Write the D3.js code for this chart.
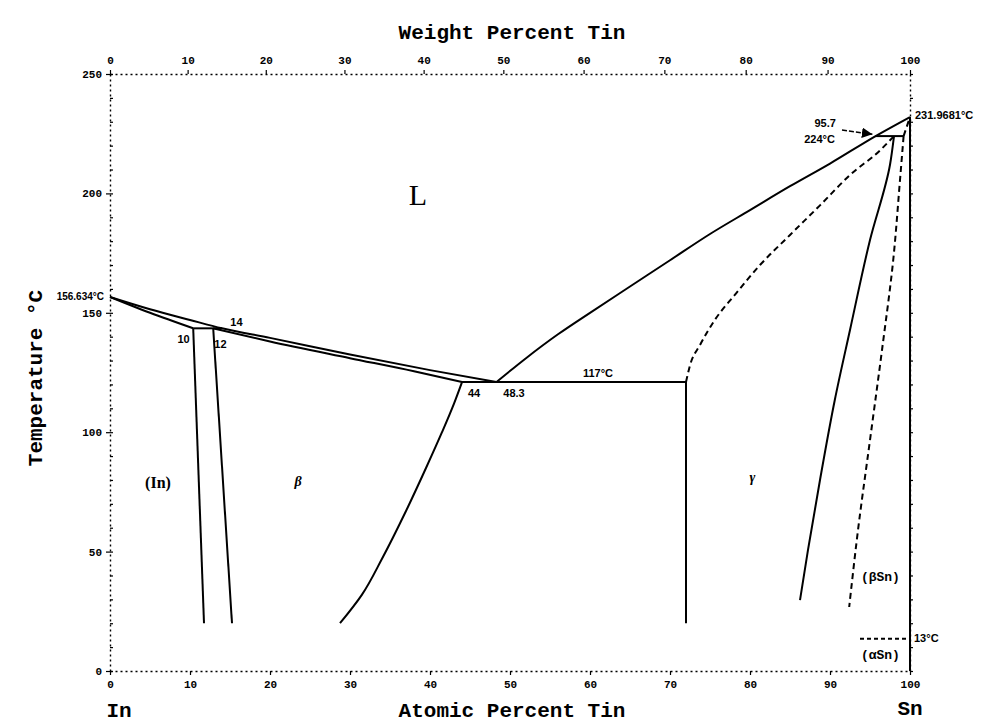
<!DOCTYPE html>
<html>
<head>
<meta charset="utf-8">
<script src="https://cdn.jsdelivr.net/npm/d3@7"></script>
<style>
  body { margin: 0; background: #fff; }
  svg { display: block; }
  .axis text { font-family: "Liberation Mono", monospace; font-weight: bold; font-size: 11px; fill: #000; }
  .axis path { stroke: #000; stroke-width: 1.4; stroke-dasharray: 2,3; }
  .axis line { stroke: #000; stroke-width: 1.2; }
  .title { font-family: "Liberation Mono", monospace; font-weight: bold; font-size: 21px; fill: #000; }
  .phase { fill: none; stroke: #000; stroke-width: 2; }
  .dashed { stroke-dasharray: 6,4; }
  .lbl { font-family: "Liberation Sans", sans-serif; font-weight: bold; font-size: 11px; fill: #000; }
</style>
</head>
<body>
<svg id="chart" width="1006" height="724"></svg>
<script>
  // tick values
  var tempTicks = [0, 50, 100, 150, 200, 250];
  var atomicTicks = [0, 10, 20, 30, 40, 50, 60, 70, 80, 90, 100];
  var weightTicks = [0, 10, 20, 30, 40, 50, 60, 70, 80, 90, 100];

  // phase boundaries, [atomic % Sn, temperature °C]
  var liquidusIn = [[0, 156.634], [5, 151.5], [10, 147], [14, 143.5], [20, 139.5], [30, 132.5], [40, 126], [48.3, 121]];
  var liquidusSn = [[48.3, 121], [52, 131], [56, 141], [60, 150], [65, 161], [70, 172], [75, 183], [80, 193], [85, 203], [90, 212.5], [95.7, 224], [100, 231.9681]];
  var solidusIn = [[0, 156.634], [5, 150], [10.4, 143.5]];
  var solidusBeta = [[12.9, 143.5], [20, 138], [30, 131], [38, 125.5], [44, 121]];
  var solvusIn = [[10.4, 143.5], [11.75, 20]];
  var betaLeft = [[12.9, 143.5], [15.25, 20]];
  var betaRight = [[44, 121], [43, 112], [41.5, 100], [39.5, 85], [37, 67], [34, 47], [31.5, 32], [28.75, 20]];
  var peritecticLow = [[10.4, 143.5], [14, 143.5]];
  var eutectic = [[44, 121], [72, 121]];
  var gammaLeft = [[72, 121], [72, 20]];
  var gammaSolidus = [[72, 121], [72.5, 128], [73.75, 136.5], [75.6, 147], [78.1, 157.5], [81.25, 170], [85, 182.6], [88.75, 195], [92.5, 207.7], [96.25, 218], [98, 224]];
  var gammaRight = [[98, 224], [97.5, 212], [95, 180.5], [92.5, 142.8], [90.6, 113.5], [88.75, 80], [87.25, 50.7], [86.25, 29.7]];
  var peritecticHigh = [[95.7, 224], [99.2, 224]];
  var betaSnSolvus = [[99.2, 224], [98.75, 205.6], [97.9, 172], [96.5, 134.4], [95, 96.7], [93.5, 59], [92.4, 26.8]];
  var betaSnSolidus = [[99.2, 224], [100, 231.9681]];
  var pureSn = [[100, 0], [100, 231.9681]];
  var alphaLine = [[93.75, 13.5], [100, 13.5]];

  var labels = [
    {t: "L", a: 38.5, c: 198, size: 30, font: "Liberation Serif", weight: "normal"},
    {t: "(In)", a: 6, c: 78, size: 16, font: "Liberation Serif"},
    {t: "β", a: 23.5, c: 79, size: 14, font: "Liberation Serif", style: "italic"},
    {t: "γ", a: 80.3, c: 80.5, size: 14, font: "Liberation Serif", style: "italic"},
    {t: "117°C", a: 61, c: 124.5},
    {t: "44", a: 45.5, c: 116},
    {t: "48.3", a: 50.5, c: 116},
    {t: "10", a: 9.2, c: 138.5},
    {t: "12", a: 13.8, c: 136.5},
    {t: "14", a: 15.8, c: 145.5},
    {t: "95.7", a: 89.4, c: 229},
    {t: "224°C", a: 88.7, c: 222.5},
    {t: "(βSn)", a: 96.3, c: 39, size: 13, font: "Liberation Mono"},
    {t: "(αSn)", a: 96.3, c: 6.5, size: 13, font: "Liberation Mono"}
  ];

  var svg = d3.select('#chart');

  var xScale = d3.scaleLinear().domain([0, 100]).range([110, 910]);
  var yScale = d3.scaleLinear().domain([0, 250]).range([671, 74]);

  // weight percent -> atomic percent for the top axis
  function atomicFromWeight(w) {
    var sn = w / 118.71, inn = (100 - w) / 114.82;
    return sn / (sn + inn) * 100;
  }
  var wScale = d3.scaleLinear()
      .domain(weightTicks)
      .range(weightTicks.map(function(w) { return xScale(atomicFromWeight(w)); }));

  var line = d3.line()
      .x(function(d) { return xScale(d[0]); })
      .y(function(d) { return yScale(d[1]); })
      .curve(d3.curveMonotoneX);
  var lineY = d3.line()
      .x(function(d) { return xScale(d[0]); })
      .y(function(d) { return yScale(d[1]); })
      .curve(d3.curveMonotoneY);

  // axes
  svg.append('g')
      .attr('class', 'axis')
      .attr('transform', 'translate(0,' + yScale(0) + ')')
      .call(d3.axisBottom(xScale).tickValues(atomicTicks).tickSize(4).tickSizeOuter(0).tickPadding(5));

  svg.append('g')
      .attr('class', 'axis')
      .attr('transform', 'translate(0,' + yScale(250) + ')')
      .call(d3.axisTop(wScale).tickValues(weightTicks).tickSize(4).tickSizeOuter(0).tickPadding(6));

  svg.append('g')
      .attr('class', 'axis')
      .attr('transform', 'translate(' + xScale(0) + ',0)')
      .call(d3.axisLeft(yScale).tickValues(tempTicks).tickSize(4).tickSizeOuter(0).tickPadding(4));

  svg.append('g')
      .attr('class', 'axis')
      .attr('transform', 'translate(' + xScale(100) + ',0)')
      .call(d3.axisRight(yScale).tickValues(d3.range(0, 251, 10)).tickSize(3).tickSizeOuter(0).tickFormat(''));

  // minor ticks on the left edge
  svg.append('g')
      .attr('class', 'axis')
      .attr('transform', 'translate(' + xScale(0) + ',0)')
      .call(d3.axisRight(yScale).tickValues(d3.range(0, 251, 10)).tickSize(3).tickFormat(''))
      .select('.domain').remove();

  // phase lines
  var solid = [liquidusIn, liquidusSn, solidusIn, solidusBeta, peritecticLow, eutectic, peritecticHigh];
  svg.selectAll('.solid-x')
    .data(solid)
    .enter().append('path')
      .attr('class', 'phase')
      .attr('d', line);

  var solidV = [solvusIn, betaLeft, betaRight, gammaLeft, gammaRight, pureSn];
  svg.selectAll('.solid-y')
    .data(solidV)
    .enter().append('path')
      .attr('class', 'phase')
      .attr('d', lineY);

  svg.append('path')
      .attr('class', 'phase dashed')
      .attr('d', line(gammaSolidus));

  svg.selectAll('.dash-y')
    .data([betaSnSolvus, betaSnSolidus])
    .enter().append('path')
      .attr('class', 'phase dashed')
      .attr('d', lineY);

  svg.append('path')
      .attr('class', 'phase')
      .attr('stroke-dasharray', '4,3')
      .attr('stroke-width', 1.5)
      .attr('d', line(alphaLine));

  // arrow for 95.7
  svg.append('defs').append('marker')
      .attr('id', 'arrow')
      .attr('viewBox', '0 0 10 10')
      .attr('refX', 10).attr('refY', 5)
      .attr('markerWidth', 7).attr('markerHeight', 7)
      .attr('orient', 'auto')
    .append('path')
      .attr('d', 'M0,0 L10,5 L0,10 z');

  svg.append('line')
      .attr('x1', xScale(91.5)).attr('y1', yScale(226.5))
      .attr('x2', xScale(95.3)).attr('y2', yScale(224.8))
      .attr('stroke', '#000')
      .attr('stroke-width', 1.5)
      .attr('stroke-dasharray', '5,2')
      .attr('marker-end', 'url(#arrow)');

  // phase labels
  svg.selectAll('.region')
    .data(labels)
    .enter().append('text')
      .attr('class', 'lbl')
      .attr('x', function(d) { return xScale(d.a); })
      .attr('y', function(d) { return yScale(d.c); })
      .attr('text-anchor', 'middle')
      .attr('dominant-baseline', 'middle')
      .style('font-size', function(d) { return (d.size || 11) + 'px'; })
      .style('font-family', function(d) { return d.font || null; })
      .style('font-weight', function(d) { return d.weight || 'bold'; })
      .style('font-style', function(d) { return d.style || null; })
      .text(function(d) { return d.t; });

  svg.append('text')
      .attr('class', 'lbl')
      .attr('x', xScale(0) - 6)
      .attr('y', yScale(156.634))
      .attr('text-anchor', 'end')
      .attr('dominant-baseline', 'middle')
      .style('font-size', '10px')
      .text('156.634°C');

  svg.append('text')
      .attr('class', 'lbl')
      .attr('x', xScale(100) + 5)
      .attr('y', yScale(232.5))
      .attr('dominant-baseline', 'middle')
      .text('231.9681°C');

  svg.append('text')
      .attr('class', 'lbl')
      .attr('x', xScale(100) + 4)
      .attr('y', yScale(13.5))
      .attr('dominant-baseline', 'middle')
      .text('13°C');

  // titles
  svg.append('text')
      .attr('class', 'title')
      .attr('x', 512).attr('y', 33)
      .attr('text-anchor', 'middle')
      .attr('dominant-baseline', 'middle')
      .text('Weight Percent Tin');

  svg.append('text')
      .attr('class', 'title')
      .attr('x', 512).attr('y', 711)
      .attr('text-anchor', 'middle')
      .attr('dominant-baseline', 'middle')
      .text('Atomic Percent Tin');

  svg.append('text')
      .attr('class', 'title')
      .attr('transform', 'translate(36,378) rotate(-90)')
      .attr('text-anchor', 'middle')
      .attr('dominant-baseline', 'middle')
      .text('Temperature °C');

  svg.append('text')
      .attr('class', 'title')
      .attr('x', 119).attr('y', 711)
      .attr('text-anchor', 'middle')
      .attr('dominant-baseline', 'middle')
      .text('In');

  svg.append('text')
      .attr('class', 'title')
      .attr('x', 910).attr('y', 709)
      .attr('text-anchor', 'middle')
      .attr('dominant-baseline', 'middle')
      .text('Sn');
</script>
</body>
</html>
